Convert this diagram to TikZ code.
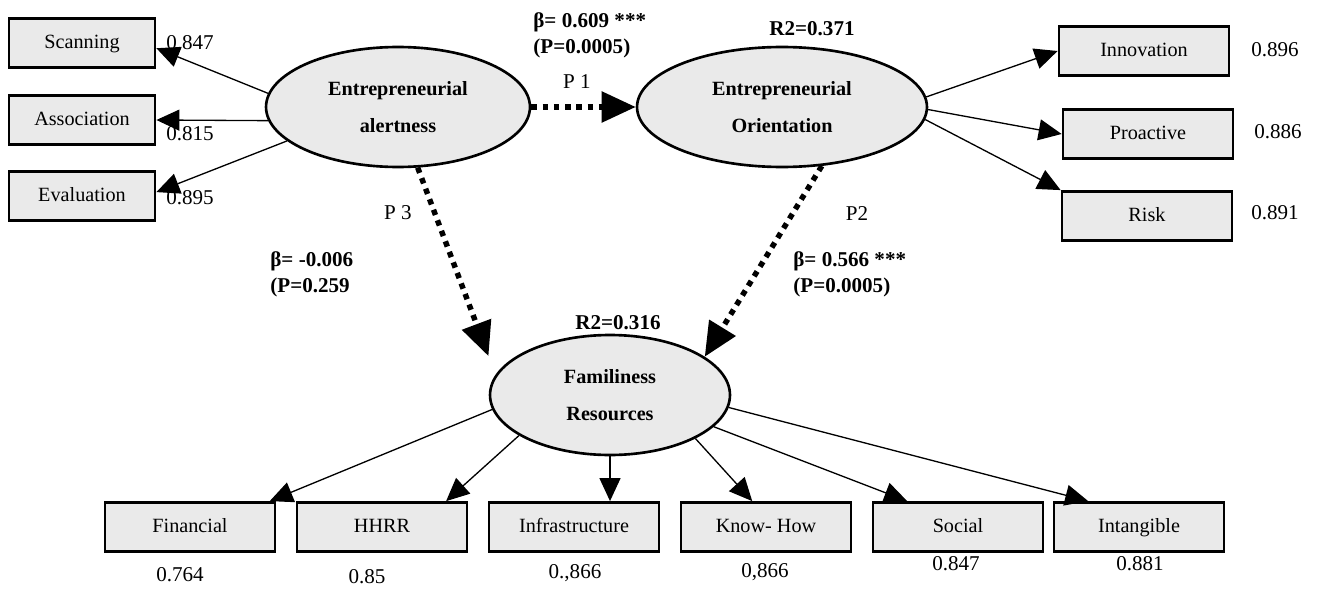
\documentclass[tikz,border=0pt]{standalone}
\usepackage{fontspec}
\setmainfont{Liberation Serif}
\usetikzlibrary{shapes.geometric,arrows.meta}
\definecolor{boxgray}{HTML}{EAEAEA}
\begin{document}
\begin{tikzpicture}[x=0.02cm, y=-0.02cm,
	indicator/.style={draw, line width=1.6pt, fill=boxgray, minimum height=0.98cm, inner sep=0pt, text height=1.9ex, text depth=0.5ex, font=\fontsize{11.5}{13}\selectfont},
	construct/.style={draw, ellipse, line width=1.5pt, fill=boxgray, minimum height=2.4cm, inner sep=0pt, align=center, font=\fontsize{11.5}{21}\selectfont\bfseries},
	loadarrow/.style={-{Triangle[length=0.46cm,width=0.42cm]}, line width=0.75pt},
	pathline/.style={-{Triangle[length=0.68cm,width=0.6cm]}, line width=3.1pt, dash pattern=on 3.2pt off 3.2pt},
	coef/.style={anchor=west, inner sep=0pt, align=left, font=\fontsize{12}{14.7}\selectfont\bfseries},
	weight/.style={inner sep=0pt, font=\fontsize{12}{14}\selectfont}]
		\useasboundingbox (0,0) rectangle (1324,588);
		% constructs
		\node[construct, minimum width=5.28cm] (ea) at (398,107) {Entrepreneurial\\alertness};
		\node[construct, minimum width=5.8cm] (eo) at (782,107) {Entrepreneurial\\Orientation};
		\node[construct, minimum width=4.8cm] (fr) at (610,395) {Familiness\\Resources};
		% indicators
		\node[indicator, minimum width=2.92cm] (scan) at (82,43) {Scanning};
		\node[indicator, minimum width=2.92cm] (assoc) at (82,120) {Association};
		\node[indicator, minimum width=2.92cm] (eval) at (82,196) {Evaluation};
		\node[indicator, minimum width=3.4cm] (inno) at (1144,51) {Innovation};
		\node[indicator, minimum width=3.4cm] (pro) at (1148,134) {Proactive};
		\node[indicator, minimum width=3.4cm] (risk) at (1147,216) {Risk};
		\node[indicator, minimum width=3.4cm] (fin) at (190,527) {Financial};
		\node[indicator, minimum width=3.4cm] (hhrr) at (382,527) {HHRR};
		\node[indicator, minimum width=3.4cm] (infra) at (574,527) {Infrastructure};
		\node[indicator, minimum width=3.4cm] (know) at (766,527) {Know- How};
		\node[indicator, minimum width=3.4cm] (soc) at (958,527) {Social};
		\node[indicator, minimum width=3.4cm] (intang) at (1139,527) {Intangible};
		% loadings
		\draw[loadarrow] (ea.174) -- (scan.-4);
		\draw[loadarrow] (ea.186) -- (assoc.east);
		\draw[loadarrow] (ea.197) -- (eval.3);
		\draw[loadarrow] (eo.4) -- (inno.west);
		\draw[loadarrow] (eo.-1) -- (pro.west);
		\draw[loadarrow] (eo.-5) -- (risk.north west);
		\draw[loadarrow] (fr.187) -- (fin.18);
		\draw[loadarrow] (fr.204) -- (hhrr.22);
		\draw[loadarrow] (fr.south) -- (fr.south |- infra.north);
		\draw[loadarrow] (fr.-27) -- (know.118);
		\draw[loadarrow] (fr.-17) -- (soc.153);
		\draw[loadarrow] (fr.-6) -- (intang.153);
		% structural paths
		\draw[pathline] (ea.east) -- (eo.west);
		\draw[pathline, shorten >=0.4cm] (ea.-72) -- (fr.170);
		\draw[pathline] (eo.-56) -- (fr.22);
		% values
		\node[weight] at (190,43) {0.847};
		\node[weight] at (190,134) {0.815};
		\node[weight] at (190,198) {0.895};
		\node[weight] at (1275,50) {0.896};
		\node[weight] at (1278,132) {0.886};
		\node[weight] at (1275,213) {0.891};
		\node[weight] at (180,575) {0.764};
		\node[weight] at (367,577) {0.85};
		\node[weight] at (575,573) {0.,866};
		\node[weight] at (765,572) {0,866};
		\node[weight] at (956,564) {0.847};
		\node[weight] at (1140,564) {0.881};
		\node[weight] at (577,82) {P 1};
		\node[weight] at (398,213) {P 3};
		\node[weight] at (857,214) {P2};
		\node[coef] at (533,35) {β= 0.609 ***\\(P=0.0005)};
		\node[coef] at (270,274) {β= -0.006\\(P=0.259};
		\node[coef] at (793,274) {β= 0.566 ***\\(P=0.0005)};
		\node[coef, anchor=center] at (812,29) {R2=0.371};
		\node[coef, anchor=center] at (618,323) {R2=0.316};
	\end{tikzpicture}
\end{document}
